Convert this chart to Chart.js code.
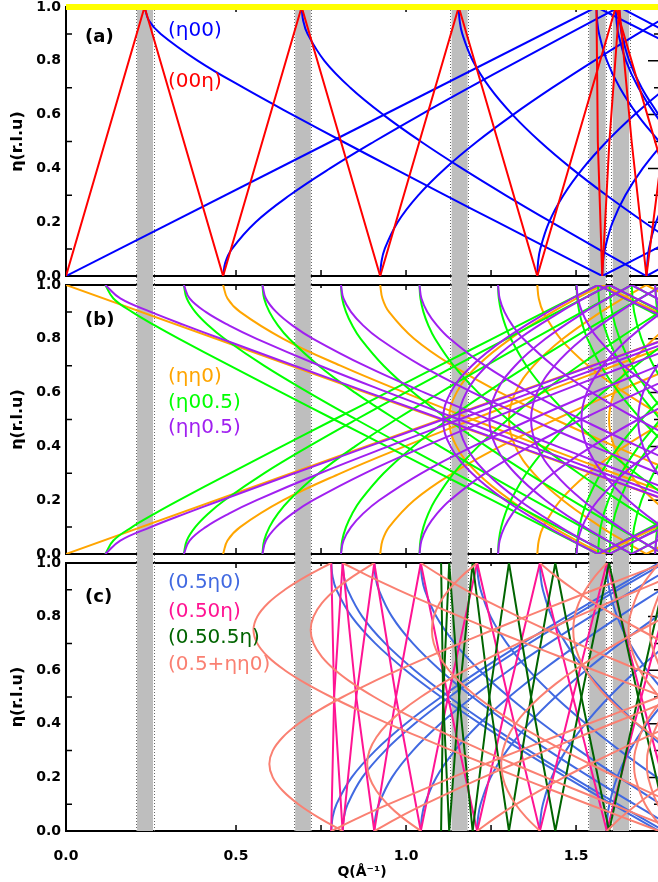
<!DOCTYPE html>
<html>
<head>
<meta charset="utf-8">
<script src="https://cdn.jsdelivr.net/npm/chart.js@4.4.1/dist/chart.umd.min.js"></script>
<style>
  html, body { margin: 0; padding: 0; background: #fff; }
  #wrap { position: relative; width: 658px; height: 882px; overflow: hidden; }
  #wrap canvas { position: absolute; left: 0; top: 0; }
  #wrap #pa { top: -30px; }
</style>
</head>
<body>
<div id="wrap">
  <canvas id="pa" width="658" height="912"></canvas>
  <canvas id="pb" width="658" height="882"></canvas>
  <canvas id="pc" width="658" height="882"></canvas>
</div>
<script>
const FONT = '"DejaVu Sans", sans-serif';
const Q_MAX = 1.741;
const xTicks = [0, 0.5, 1.0, 1.5];
const xTickMarks = [0, 0.25, 0.5, 0.75, 1.0, 1.25, 1.5];
const yTicks = [0, 0.2, 0.4, 0.6, 0.8, 1.0];
const yTickMarks = [0.1, 0.2, 0.3, 0.4, 0.5, 0.6, 0.7, 0.8, 0.9];
// grey Q windows [from, to]
const bands = [[0.209, 0.256], [0.674, 0.720], [1.134, 1.181], [1.539, 1.587], [1.608, 1.656]];

// every curve is a list of [Q, eta] points
const a_yellow = [[[0, 1], [Q_MAX, 1]]];
const a_red = [
  [[0,0],[0.231,1],[0.462,0],[0.693,1],[0.924,0],[1.155,1],[1.386,0],[1.617,1],[1.848,0]],
  [[1.560,1],[1.564,0.5],[1.577,0],[1.598,0.5],[1.627,1],[1.6635,0.5],[1.707,0],[1.757,0.5],[1.813,1]]
];
const a_blue = [
  [[0,0],[1.56,1]],
  [[1.56,1],[3.12,0]],
  [[0.462,0],[0.4685,0.05],[0.4876,0.1],[0.5575,0.2],[0.6576,0.3],[0.7764,0.4],[0.9066,0.5],[1.0438,0.6],[1.1857,0.7],[1.3308,0.8],[1.4781,0.9],[1.627,1]],
  [[1.627,1],[1.777,0.9],[1.928,0.8]],
  [[0.924,0],[0.9273,0.05],[0.9371,0.1],[0.9753,0.2],[1.0358,0.3],[1.115,0.4],[1.2092,0.5],[1.3153,0.6],[1.4305,0.7],[1.5528,0.8],[1.6808,0.9],[1.8131,1]],
  [[1.386,0],[1.3882,0.05],[1.3947,0.1],[1.4207,0.2],[1.4629,0.3],[1.52,0.4],[1.5904,0.5],[1.6725,0.6],[1.7645,0.7]],
  [[0.231,1],[0.2438,0.95],[0.2787,0.9],[0.3882,0.8],[0.5219,0.7],[0.6654,0.6],[0.8135,0.5],[0.9641,0.4],[1.1162,0.3],[1.2692,0.2],[1.4229,0.1],[1.577,0]],
  [[1.577,0],[1.7315,0.1],[1.886,0.2]],
  [[0.693,1],[0.6974,0.95],[0.7103,0.9],[0.76,0.8],[0.8362,0.7],[0.9325,0.6],[1.0434,0.5],[1.1646,0.4],[1.2933,0.3],[1.4275,0.2],[1.5657,0.1],[1.707,0]],
  [[1.707,0],[1.8507,0.1]],
  [[1.155,1],[1.1576,0.95],[1.1655,0.9],[1.1964,0.8],[1.2462,0.7],[1.3128,0.6],[1.3937,0.5],[1.4866,0.4],[1.5895,0.3],[1.7004,0.2],[1.818,0.1]],
  [[1.617,1],[1.6189,0.95],[1.6245,0.9],[1.6468,0.8],[1.6834,0.7],[1.7332,0.6],[1.7953,0.5]],
  [[1.577,0],[1.5789,0.05],[1.5847,0.1],[1.6076,0.2],[1.645,0.3],[1.696,0.4],[1.7594,0.5]],
  [[1.707,0],[1.7141,0.1],[1.7353,0.2],[1.77,0.3]],
  [[1.56,1],[1.562,0.95],[1.5678,0.9],[1.5909,0.8],[1.6287,0.7],[1.6802,0.6],[1.7441,0.5]],
  [[1.627,1],[1.6288,0.95],[1.6344,0.9],[1.6566,0.8],[1.6929,0.7],[1.7425,0.6]]
];

const b_orange = [
  [[0,0],[2.206,1]],
  [[0.462,0],[0.475,0.05],[0.512,0.1],[0.6389,0.2],[0.8071,0.3],[0.9961,0.4],[1.1959,0.5],[1.402,0.6],[1.612,0.7],[1.8244,0.8]],
  [[0.924,0],[0.9306,0.05],[0.95,0.1],[1.0239,0.2],[1.1366,0.3],[1.2777,0.4],[1.439,0.5],[1.6143,0.6],[1.7997,0.7]],
  [[1.386,0],[1.3904,0.05],[1.4034,0.1],[1.4545,0.2],[1.5359,0.3],[1.6431,0.4],[1.7714,0.5]],
  [[0,1],[2.206,0]],
  [[0.462,1],[0.475,0.95],[0.512,0.9],[0.6389,0.8],[0.8071,0.7],[0.9961,0.6],[1.1959,0.5],[1.402,0.4],[1.612,0.3],[1.8244,0.2]],
  [[0.924,1],[0.9306,0.95],[0.95,0.9],[1.0239,0.8],[1.1366,0.7],[1.2777,0.6],[1.439,0.5],[1.6143,0.4],[1.7997,0.3]],
  [[1.386,1],[1.3904,0.95],[1.4034,0.9],[1.4545,0.8],[1.5359,0.7],[1.6431,0.6],[1.7714,0.5]],
  [[1.577,0],[1.5019,0.05],[1.4314,0.1],[1.307,0.2],[1.2103,0.3],[1.1484,0.4],[1.127,0.5],[1.1484,0.6],[1.2103,0.7],[1.307,0.8],[1.4314,0.9],[1.5019,0.95],[1.577,1]],
  [[1.707,0],[1.6379,0.05],[1.5735,0.1],[1.4612,0.2],[1.3754,0.3],[1.3213,0.4],[1.3027,0.5],[1.3213,0.6],[1.3754,0.7],[1.4612,0.8],[1.5735,0.9],[1.6379,0.95],[1.707,1]],
  [[1.941,0],[1.8806,0.05],[1.8247,0.1],[1.7288,0.2],[1.657,0.3],[1.6123,0.4],[1.5971,0.5],[1.6123,0.6],[1.657,0.7],[1.7288,0.8],[1.8247,0.9],[1.8806,0.95],[1.941,1]],
  [[1.577,0],[1.656,0.05],[1.7385,0.1],[1.824,0.15]],
  [[1.707,0],[1.7803,0.05]],
  [[1.577,1],[1.656,0.95],[1.7385,0.9],[1.824,0.85]],
  [[1.707,1],[1.7803,0.95]]
];
const b_green = [
  [[0.1155,0],[0.1394,0.05],[0.1941,0.1],[0.261,0.15],[0.3327,0.2],[0.482,0.3],[0.6346,0.4],[0.7885,0.5],[0.9431,0.6],[1.0981,0.7],[1.2533,0.8],[1.4087,0.9],[1.5643,1]],
  [[0.3465,0],[0.3552,0.05],[0.38,0.1],[0.4181,0.15],[0.4663,0.2],[0.5823,0.3],[0.7138,0.4],[0.8535,0.5],[0.9981,0.6],[1.1457,0.7],[1.2952,0.8],[1.4461,0.9],[1.598,1]],
  [[0.5775,0],[0.5827,0.05],[0.5982,0.1],[0.6231,0.15],[0.6564,0.2],[0.7433,0.3],[0.8502,0.4],[0.9705,0.5],[1.0998,0.6],[1.2353,0.7],[1.3751,0.8],[1.5181,0.9],[1.6635,1]],
  [[0.8085,0],[0.8122,0.05],[0.8234,0.1],[0.8417,0.15],[0.8666,0.2],[0.9342,0.3],[1.0213,0.4],[1.1234,0.5],[1.2368,0.6],[1.3587,0.7],[1.487,0.8],[1.6201,0.9],[1.757,1]],
  [[1.0395,0],[1.0424,0.05],[1.0511,0.1],[1.0655,0.15],[1.0853,0.2],[1.14,0.3],[1.2124,0.4],[1.2996,0.5],[1.3988,0.6],[1.5077,0.7],[1.6242,0.8],[1.7469,0.9]],
  [[1.2705,0],[1.2729,0.05],[1.28,0.1],[1.2919,0.15],[1.3082,0.2],[1.354,0.3],[1.4155,0.4],[1.4908,0.5],[1.5781,0.6],[1.6753,0.7],[1.7809,0.8]],
  [[1.5015,0],[1.5035,0.05],[1.5096,0.1],[1.5196,0.15],[1.5336,0.2],[1.5728,0.3],[1.626,0.4],[1.692,0.5],[1.7693,0.6]],
  [[1.7325,0],[1.7395,0.1],[1.7604,0.2]],
  [[0.1155,1],[0.1394,0.95],[0.1941,0.9],[0.261,0.85],[0.3327,0.8],[0.482,0.7],[0.6346,0.6],[0.7885,0.5],[0.9431,0.4],[1.0981,0.3],[1.2533,0.2],[1.4087,0.1],[1.5643,0]],
  [[0.3465,1],[0.3552,0.95],[0.38,0.9],[0.4181,0.85],[0.4663,0.8],[0.5823,0.7],[0.7138,0.6],[0.8535,0.5],[0.9981,0.4],[1.1457,0.3],[1.2952,0.2],[1.4461,0.1],[1.598,0]],
  [[0.5775,1],[0.5827,0.95],[0.5982,0.9],[0.6231,0.85],[0.6564,0.8],[0.7433,0.7],[0.8502,0.6],[0.9705,0.5],[1.0998,0.4],[1.2353,0.3],[1.3751,0.2],[1.5181,0.1],[1.6635,0]],
  [[0.8085,1],[0.8122,0.95],[0.8234,0.9],[0.8417,0.85],[0.8666,0.8],[0.9342,0.7],[1.0213,0.6],[1.1234,0.5],[1.2368,0.4],[1.3587,0.3],[1.487,0.2],[1.6201,0.1],[1.757,0]],
  [[1.0395,1],[1.0424,0.95],[1.0511,0.9],[1.0655,0.85],[1.0853,0.8],[1.14,0.7],[1.2124,0.6],[1.2996,0.5],[1.3988,0.4],[1.5077,0.3],[1.6242,0.2],[1.7469,0.1]],
  [[1.2705,1],[1.2729,0.95],[1.28,0.9],[1.2919,0.85],[1.3082,0.8],[1.354,0.7],[1.4155,0.6],[1.4908,0.5],[1.5781,0.4],[1.6753,0.3],[1.7809,0.2]],
  [[1.5015,1],[1.5035,0.95],[1.5096,0.9],[1.5196,0.85],[1.5336,0.8],[1.5728,0.7],[1.626,0.6],[1.692,0.5],[1.7693,0.4]],
  [[1.7325,1],[1.7395,0.9],[1.7604,0.8]],
  [[1.5643,0],[1.7199,0.1],[1.8756,0.2]],
  [[1.598,0],[1.7506,0.1]],
  [[1.6635,0],[1.8106,0.1]],
  [[1.5643,1],[1.7199,0.9],[1.8756,0.8]],
  [[1.598,1],[1.7506,0.9]],
  [[1.6635,1],[1.8106,0.9]],
  [[1.5643,0],[1.572,0.1],[1.5951,0.2],[1.6328,0.3],[1.6841,0.4],[1.748,0.5]],
  [[1.598,0],[1.6056,0.1],[1.6282,0.2],[1.6651,0.3],[1.7155,0.4],[1.7782,0.5]],
  [[1.6635,0],[1.6708,0.1],[1.6925,0.2],[1.728,0.3],[1.7767,0.4]],
  [[1.5643,1],[1.572,0.9],[1.5951,0.8],[1.6328,0.7],[1.6841,0.6],[1.748,0.5]],
  [[1.598,1],[1.6056,0.9],[1.6282,0.8],[1.6651,0.7],[1.7155,0.6],[1.7782,0.5]],
  [[1.6635,1],[1.6708,0.9],[1.6925,0.8],[1.728,0.7],[1.7767,0.6]]
];
const b_purple = [
  [[0.1155,0],[0.1597,0.05],[0.249,0.1],[0.3505,0.15],[0.4561,0.2],[0.6719,0.3],[0.89,0.4],[1.1091,0.5],[1.3287,0.6],[1.5486,0.7],[1.7687,0.8]],
  [[0.3465,0],[0.3636,0.05],[0.4108,0.1],[0.4791,0.15],[0.561,0.2],[0.7471,0.3],[0.9481,0.4],[1.1562,0.5],[1.3683,0.6],[1.5827,0.7],[1.7986,0.8]],
  [[0.5775,0],[0.588,0.05],[0.6182,0.1],[0.6656,0.15],[0.7268,0.2],[0.8784,0.3],[1.0546,0.4],[1.2451,0.5],[1.4442,0.6],[1.6488,0.7],[1.857,0.8]],
  [[0.8085,0],[0.816,0.05],[0.8381,0.1],[0.8736,0.15],[0.9211,0.2],[1.0449,0.3],[1.1968,0.4],[1.3677,0.5],[1.5511,0.6],[1.7432,0.7]],
  [[1.0395,0],[1.0453,0.05],[1.0627,0.1],[1.0909,0.15],[1.1293,0.2],[1.2323,0.3],[1.3636,0.4],[1.5157,0.5],[1.6831,0.6],[1.8616,0.7]],
  [[1.2705,0],[1.2753,0.05],[1.2895,0.1],[1.3129,0.15],[1.3449,0.2],[1.4326,0.3],[1.5469,0.4],[1.6826,0.5],[1.8348,0.6]],
  [[1.5015,0],[1.5056,0.05],[1.5176,0.1],[1.5375,0.15],[1.565,0.2],[1.6409,0.3],[1.7416,0.4]],
  [[1.7325,0],[1.736,0.05],[1.7465,0.1]],
  [[0.1155,1],[0.1597,0.95],[0.249,0.9],[0.3505,0.85],[0.4561,0.8],[0.6719,0.7],[0.89,0.6],[1.1091,0.5],[1.3287,0.4],[1.5486,0.3],[1.7687,0.2]],
  [[0.3465,1],[0.3636,0.95],[0.4108,0.9],[0.4791,0.85],[0.561,0.8],[0.7471,0.7],[0.9481,0.6],[1.1562,0.5],[1.3683,0.4],[1.5827,0.3],[1.7986,0.2]],
  [[0.5775,1],[0.588,0.95],[0.6182,0.9],[0.6656,0.85],[0.7268,0.8],[0.8784,0.7],[1.0546,0.6],[1.2451,0.5],[1.4442,0.4],[1.6488,0.3],[1.857,0.2]],
  [[0.8085,1],[0.816,0.95],[0.8381,0.9],[0.8736,0.85],[0.9211,0.8],[1.0449,0.7],[1.1968,0.6],[1.3677,0.5],[1.5511,0.4],[1.7432,0.3]],
  [[1.0395,1],[1.0453,0.95],[1.0627,0.9],[1.0909,0.85],[1.1293,0.8],[1.2323,0.7],[1.3636,0.6],[1.5157,0.5],[1.6831,0.4],[1.8616,0.3]],
  [[1.2705,1],[1.2753,0.95],[1.2895,0.9],[1.3129,0.85],[1.3449,0.8],[1.4326,0.7],[1.5469,0.6],[1.6826,0.5],[1.8348,0.4]],
  [[1.5015,1],[1.5056,0.95],[1.5176,0.9],[1.5375,0.85],[1.565,0.8],[1.6409,0.7],[1.7416,0.6]],
  [[1.7325,1],[1.736,0.95],[1.7465,0.9]],
  [[1.5643,0],[1.4885,0.05],[1.4174,0.1],[1.2916,0.2],[1.1937,0.3],[1.1309,0.4],[1.1091,0.5],[1.1309,0.6],[1.1937,0.7],[1.2916,0.8],[1.4174,0.9],[1.4885,0.95],[1.5643,1]],
  [[1.598,0],[1.524,0.05],[1.4545,0.1],[1.3323,0.2],[1.2376,0.3],[1.1771,0.4],[1.1562,0.5],[1.1771,0.6],[1.2376,0.7],[1.3323,0.8],[1.4545,0.9],[1.524,0.95],[1.598,1]],
  [[1.6635,0],[1.5925,0.05],[1.5261,0.1],[1.4101,0.2],[1.321,0.3],[1.2645,0.4],[1.2451,0.5],[1.2645,0.6],[1.321,0.7],[1.4101,0.8],[1.5261,0.9],[1.5925,0.95],[1.6635,1]],
  [[1.757,0],[1.69,0.05],[1.6276,0.1],[1.5194,0.2],[1.4371,0.3],[1.3853,0.4],[1.3677,0.5],[1.3853,0.6],[1.4371,0.7],[1.5194,0.8],[1.6276,0.9],[1.69,0.95],[1.757,1]],
  [[1.8746,0],[1.8119,0.05],[1.7539,0.1],[1.6539,0.2],[1.5786,0.3],[1.5317,0.4],[1.5157,0.5],[1.5317,0.6],[1.5786,0.7],[1.6539,0.8],[1.7539,0.9],[1.8119,0.95],[1.8746,1]],
  [[1.9,0.1],[1.808,0.2],[1.7394,0.3],[1.697,0.4],[1.6826,0.5],[1.697,0.6],[1.7394,0.7],[1.808,0.8],[1.9,0.9]],
  [[1.5643,0],[1.6439,0.05],[1.727,0.1],[1.8129,0.15]],
  [[1.598,0],[1.6761,0.05],[1.7576,0.1]],
  [[1.6635,0],[1.7386,0.05],[1.8173,0.1]],
  [[1.5643,1],[1.6439,0.95],[1.727,0.9],[1.8129,0.85]],
  [[1.598,1],[1.6761,0.95],[1.7576,0.9]],
  [[1.6635,1],[1.7386,0.95],[1.8173,0.9]]
];

const c_blue = [
  [[0.78,0],[0.7839,0.05],[0.7955,0.1],[0.8401,0.2],[0.9096,0.3],[0.9989,0.4],[1.1031,0.5],[1.2184,0.6],[1.342,0.7],[1.4717,0.8],[1.6061,0.9],[1.7441,1]],
  [[0.8135,0],[0.8172,0.05],[0.8283,0.1],[0.8713,0.2],[0.9385,0.3],[1.0253,0.4],[1.127,0.5],[1.2401,0.6],[1.3617,0.7],[1.4897,0.8],[1.6226,0.9],[1.7594,1]],
  [[0.9066,0],[0.9099,0.05],[0.9199,0.1],[0.9587,0.2],[1.0202,0.3],[1.1006,0.4],[1.1959,0.5],[1.303,0.6],[1.4193,0.7],[1.5425,0.8],[1.6712,0.9],[1.8043,1]],
  [[1.0434,0],[1.0463,0.05],[1.055,0.1],[1.089,0.2],[1.1435,0.3],[1.2157,0.4],[1.3027,0.5],[1.4017,0.6],[1.5103,0.7],[1.6267,0.8],[1.7492,0.9]],
  [[1.2092,0],[1.2117,0.05],[1.2192,0.1],[1.2488,0.2],[1.2966,0.3],[1.3607,0.4],[1.439,0.5],[1.5291,0.6],[1.6293,0.7],[1.7377,0.8],[1.853,0.9]],
  [[1.3937,0],[1.3959,0.05],[1.4024,0.1],[1.4282,0.2],[1.4702,0.3],[1.527,0.4],[1.5971,0.5],[1.6788,0.6],[1.7706,0.7]],
  [[1.5904,0],[1.5923,0.05],[1.598,0.1],[1.6207,0.2],[1.6578,0.3],[1.7084,0.4],[1.7714,0.5]],
  [[0.78,1],[0.7839,0.95],[0.7955,0.9],[0.8401,0.8],[0.9096,0.7],[0.9989,0.6],[1.1031,0.5],[1.2184,0.4],[1.342,0.3],[1.4717,0.2],[1.6061,0.1],[1.7441,0]],
  [[0.8135,1],[0.8172,0.95],[0.8283,0.9],[0.8713,0.8],[0.9385,0.7],[1.0253,0.6],[1.127,0.5],[1.2401,0.4],[1.3617,0.3],[1.4897,0.2],[1.6226,0.1],[1.7594,0]],
  [[0.9066,1],[0.9099,0.95],[0.9199,0.9],[0.9587,0.8],[1.0202,0.7],[1.1006,0.6],[1.1959,0.5],[1.303,0.4],[1.4193,0.3],[1.5425,0.2],[1.6712,0.1],[1.8043,0]],
  [[1.0434,1],[1.0463,0.95],[1.055,0.9],[1.089,0.8],[1.1435,0.7],[1.2157,0.6],[1.3027,0.5],[1.4017,0.4],[1.5103,0.3],[1.6267,0.2],[1.7492,0.1]],
  [[1.2092,1],[1.2117,0.95],[1.2192,0.9],[1.2488,0.8],[1.2966,0.7],[1.3607,0.6],[1.439,0.5],[1.5291,0.4],[1.6293,0.3],[1.7377,0.2],[1.853,0.1]],
  [[1.3937,1],[1.3959,0.95],[1.4024,0.9],[1.4282,0.8],[1.4702,0.7],[1.527,0.6],[1.5971,0.5],[1.6788,0.4],[1.7706,0.3]],
  [[1.5904,1],[1.5923,0.95],[1.598,0.9],[1.6207,0.8],[1.6578,0.7],[1.7084,0.6],[1.7714,0.5]]
];
const c_pink = [
  [[0.78,0],[0.7885,0.5],[0.8135,1],[0.8535,0.5],[0.9066,0],[0.9705,0.5],[1.0434,1],[1.1234,0.5],[1.2092,0],[1.2996,0.5],[1.3937,1],[1.4908,0.5],[1.5904,0],[1.692,0.5],[1.7953,1]],
  [[0.78,1],[0.7885,0.5],[0.8135,0],[0.8535,0.5],[0.9066,1],[0.9705,0.5],[1.0434,0],[1.1234,0.5],[1.2092,1],[1.2996,0.5],[1.3937,0],[1.4908,0.5],[1.5904,1],[1.692,0.5],[1.7953,0]]
];
const c_dgreen = [
  [[1.1031,0],[1.1091,0.5],[1.127,1],[1.1562,0.5],[1.1959,0],[1.2451,0.5],[1.3027,1],[1.3677,0.5],[1.439,0],[1.5157,0.5],[1.5971,1],[1.6826,0.5],[1.7714,0]],
  [[1.1031,1],[1.1091,0.5],[1.127,0],[1.1562,0.5],[1.1959,1],[1.2451,0.5],[1.3027,0],[1.3677,0.5],[1.439,1],[1.5157,0.5],[1.5971,0],[1.6826,0.5],[1.7714,1]]
];
const c_salmon = [
  [[0.78,0],[0.8615,0.05],[0.9489,0.1],[1.0407,0.15],[1.1357,0.2],[1.2333,0.25],[1.3329,0.3],[1.434,0.35],[1.5364,0.4],[1.6399,0.45],[1.7441,0.5]],
  [[0.9066,0],[0.9776,0.05],[1.0554,0.1],[1.1386,0.15],[1.2261,0.2],[1.317,0.25],[1.4107,0.3],[1.5066,0.35],[1.6044,0.4],[1.7037,0.45],[1.8043,0.5]],
  [[1.2092,0],[1.2633,0.05],[1.3245,0.1],[1.3917,0.15],[1.4641,0.2],[1.5411,0.25],[1.6218,0.3],[1.7059,0.35],[1.7929,0.4]],
  [[1.5904,0],[1.6319,0.05],[1.6797,0.1],[1.7332,0.15],[1.7919,0.2]],
  [[0.8135,1],[0.892,0.95],[0.9766,0.9],[1.066,0.85],[1.159,0.8],[1.2547,0.75],[1.3527,0.7],[1.4525,0.65],[1.5537,0.6],[1.656,0.55],[1.7594,0.5]],
  [[1.0434,1],[1.1057,0.95],[1.175,0.9],[1.2503,0.85],[1.3304,0.8],[1.4147,0.75],[1.5023,0.7],[1.5927,0.65],[1.6855,0.6],[1.7803,0.55]],
  [[1.3937,1],[1.441,0.95],[1.4948,0.9],[1.5547,0.85],[1.6198,0.8],[1.6897,0.75],[1.7637,0.7]],
  [[0.8135,0],[0.7431,0.05],[0.6834,0.1],[0.6374,0.15],[0.6081,0.2],[0.598,0.25],[0.6081,0.3],[0.6374,0.35],[0.6834,0.4],[0.7431,0.45],[0.8135,0.5],[0.892,0.55],[0.9766,0.6],[1.066,0.65],[1.159,0.7],[1.2547,0.75],[1.3527,0.8],[1.4525,0.85],[1.5537,0.9],[1.656,0.95],[1.7594,1]],
  [[1.0434,0],[0.9895,0.05],[0.9455,0.1],[0.9128,0.15],[0.8925,0.2],[0.8857,0.25],[0.8925,0.3],[0.9128,0.35],[0.9455,0.4],[0.9895,0.45],[1.0434,0.5],[1.1057,0.55],[1.175,0.6],[1.2503,0.65],[1.3304,0.7],[1.4147,0.75],[1.5023,0.8],[1.5927,0.85],[1.6855,0.9],[1.7803,0.95]],
  [[1.3937,0],[1.3539,0.05],[1.322,0.1],[1.2988,0.15],[1.2847,0.2],[1.2799,0.25],[1.2847,0.3],[1.2988,0.35],[1.322,0.4],[1.3539,0.45],[1.3937,0.5],[1.441,0.55],[1.4948,0.6],[1.5547,0.65],[1.6198,0.7],[1.6897,0.75],[1.7637,0.8]],
  [[1.7953,0],[1.7402,0.1],[1.712,0.2],[1.7085,0.25],[1.712,0.3],[1.7402,0.4],[1.7953,0.5]],
  [[0.78,1],[0.7063,0.95],[0.6432,0.9],[0.594,0.85],[0.5625,0.8],[0.5515,0.75],[0.5625,0.7],[0.594,0.65],[0.6432,0.6],[0.7063,0.55],[0.78,0.5],[0.8615,0.45],[0.9489,0.4],[1.0407,0.35],[1.1357,0.3],[1.2333,0.25],[1.3329,0.2],[1.434,0.15],[1.5364,0.1],[1.6399,0.05],[1.7441,0]],
  [[0.9066,1],[0.844,0.95],[0.7919,0.9],[0.7525,0.85],[0.7279,0.8],[0.7195,0.75],[0.7279,0.7],[0.7525,0.65],[0.7919,0.6],[0.844,0.55],[0.9066,0.5],[0.9776,0.45],[1.0554,0.4],[1.1386,0.35],[1.2261,0.3],[1.317,0.25],[1.4107,0.2],[1.5066,0.15],[1.6044,0.1],[1.7037,0.05],[1.8043,0]],
  [[1.2092,1],[1.163,0.95],[1.1258,0.9],[1.0985,0.85],[1.0817,0.8],[1.0761,0.75],[1.0817,0.7],[1.0985,0.65],[1.1258,0.6],[1.163,0.55],[1.2092,0.5],[1.2633,0.45],[1.3245,0.4],[1.3917,0.35],[1.4641,0.3],[1.5411,0.25],[1.6218,0.2],[1.7059,0.15],[1.7929,0.1]],
  [[1.5904,1],[1.5556,0.95],[1.528,0.9],[1.5079,0.85],[1.4958,0.8],[1.4917,0.75],[1.4958,0.7],[1.5079,0.65],[1.528,0.6],[1.5556,0.55],[1.5904,0.5],[1.6319,0.45],[1.6797,0.4],[1.7332,0.35],[1.7919,0.3]],
  [[1.7594,0],[1.7031,0.1],[1.6743,0.2],[1.6707,0.25],[1.6743,0.3],[1.7031,0.4],[1.7594,0.5]],
  [[1.7441,0.5],[1.6874,0.6],[1.6583,0.7],[1.6546,0.75],[1.6583,0.8],[1.6874,0.9],[1.7441,1]],
  [[1.7495,0.6],[1.7215,0.7],[1.7179,0.75],[1.7215,0.8],[1.7495,0.9]]
];

function isMultiple(v, step) {
  return Math.abs(v / step - Math.round(v / step)) < 1e-6;
}

// frame, inward ticks, grey windows, and the in-plot labels
const panelDecor = {
  id: 'panelDecor',
  beforeDatasetsDraw(chart, args, o) {
    const { ctx, chartArea: a } = chart;
    const x = chart.scales.x, y = chart.scales.y;
    ctx.save();
    ctx.strokeStyle = '#000';
    ctx.lineWidth = 2;
    ctx.beginPath();
    ctx.moveTo(a.right + 2, a.top);
    ctx.lineTo(a.left, a.top);
    ctx.lineTo(a.left, a.bottom);
    ctx.lineTo(a.right + 2, a.bottom);
    ctx.stroke();

    ctx.lineWidth = 1.5;
    ctx.beginPath();
    xTickMarks.forEach(v => {
      const px = x.getPixelForValue(v);
      const major = isMultiple(v, 0.5);
      ctx.moveTo(px, a.bottom);
      ctx.lineTo(px, a.bottom - 6);
      ctx.moveTo(px, a.top);
      ctx.lineTo(px, a.top + (major ? 5 : 3));
    });
    yTickMarks.forEach(v => {
      const py = y.getPixelForValue(v);
      const major = isMultiple(v, 0.2);
      if (!major) {
        ctx.moveTo(a.left, py);
        ctx.lineTo(a.left + 6, py);
      }
      ctx.moveTo(a.right, py);
      ctx.lineTo(a.right - (major ? 10 : 4), py);
    });
    ctx.stroke();

    const bottom = a.bottom + o.gap;
    bands.forEach(b => {
      const x0 = x.getPixelForValue(b[0]);
      const x1 = x.getPixelForValue(b[1]);
      ctx.fillStyle = '#bebebe';
      ctx.fillRect(x0, a.top - 1, x1 - x0, bottom - a.top + 1);
      ctx.strokeStyle = '#666';
      ctx.lineWidth = 1;
      ctx.setLineDash([1, 2]);
      [Math.floor(x0) - 0.5, Math.ceil(x1) + 0.5].forEach(px => {
        ctx.beginPath();
        ctx.moveTo(px, a.top);
        ctx.lineTo(px, bottom);
        ctx.stroke();
      });
      ctx.setLineDash([]);
    });
    ctx.restore();
  },
  afterDatasetsDraw(chart, args, o) {
    const { ctx } = chart;
    const x = chart.scales.x, y = chart.scales.y;
    ctx.save();
    ctx.textAlign = 'left';
    ctx.textBaseline = 'middle';
    ctx.fillStyle = '#000';
    ctx.font = 'bold 18px ' + FONT;
    ctx.fillText(o.tag[0], x.getPixelForValue(o.tag[1]), y.getPixelForValue(o.tag[2]));
    ctx.font = '20px ' + FONT;
    o.notes.forEach(n => {
      ctx.fillStyle = n[1];
      ctx.fillText(n[0], x.getPixelForValue(n[2]), y.getPixelForValue(n[3]));
    });
    ctx.restore();
  }
};

function makePanel(id, cfg) {
  const datasets = [];
  cfg.series.forEach(s => {
    s.curves.forEach(c => {
      const ds = {
        data: c.map(p => ({ x: p[0], y: p[1] })),
        showLine: true,
        borderColor: s.color,
        borderWidth: s.width || 2,
        tension: s.smooth ? 0.4 : 0,
        pointRadius: 0,
        pointHoverRadius: 0,
        borderCapStyle: 'butt',
        fill: false
      };
      if (s.clip !== undefined) ds.clip = s.clip;
      datasets.push(ds);
    });
  });
  const tickFont = { family: FONT, size: 14, weight: 'bold' };
  return new Chart(document.getElementById(id), {
    type: 'scatter',
    data: { datasets },
    plugins: [panelDecor],
    options: {
      responsive: false,
      animation: false,
      events: [],
      layout: { autoPadding: false, padding: { top: cfg.top, bottom: cfg.padBottom, left: 0, right: 0 } },
      plugins: {
        legend: { display: false },
        tooltip: { enabled: false },
        panelDecor: { gap: cfg.gap, tag: cfg.tag, notes: cfg.notes }
      },
      scales: {
        x: {
          type: 'linear', min: 0, max: Q_MAX, display: cfg.showX,
          grid: { display: false, drawTicks: false },
          border: { display: false },
          afterBuildTicks: s => { s.ticks = xTicks.map(v => ({ value: v })); },
          afterFit: s => { if (cfg.showX) s.height = 51; },
          ticks: { padding: 17, font: tickFont, color: '#000', maxRotation: 0, autoSkip: false,
                   callback: v => v.toFixed(1) },
          title: { display: true, text: 'Q(Å⁻¹)', color: '#000',
                   font: { family: FONT, size: 14, weight: 'bold' }, padding: { top: 0, bottom: 1 } }
        },
        y: {
          type: 'linear', min: 0, max: 1,
          grid: { display: false, drawTicks: false },
          border: { display: false },
          afterBuildTicks: s => { s.ticks = yTicks.map(v => ({ value: v })); },
          afterFit: s => { s.width = 66; },
          ticks: { padding: 5, font: tickFont, color: '#000', callback: v => v.toFixed(1) },
          title: { display: true, text: 'η(r.l.u)', color: '#000',
                   font: { family: FONT, size: 16, weight: 'bold' }, padding: { top: 8, bottom: 0 } }
        }
      }
    }
  });
}

// panel (a) canvas sits 30px above the page top, so its plot top is 7px on the page
makePanel('pa', {
  top: 37, padBottom: 606, gap: 9, showX: false,
  tag: ['(a)', 0.056, 0.888],
  notes: [['(η00)', '#0000ff', 0.3, 0.911], ['(00η)', '#ff0000', 0.3, 0.721]],
  series: [
    { curves: a_yellow, color: '#ffff00', width: 6, clip: { left: 0, right: 0, top: 4, bottom: 0 } },
    { curves: a_red, color: '#ff0000' },
    { curves: a_blue, color: '#0000ff', smooth: true }
  ]
});

makePanel('pb', {
  top: 285, padBottom: 328, gap: 9, showX: false,
  tag: ['(b)', 0.056, 0.87],
  notes: [['(ηη0)', '#ffa500', 0.3, 0.658], ['(η00.5)', '#00ff00', 0.3, 0.561], ['(ηη0.5)', '#a020f0', 0.3, 0.468]],
  series: [
    { curves: b_purple, color: '#a020f0', smooth: true },
    { curves: b_green, color: '#00ff00', smooth: true },
    { curves: b_orange, color: '#ffa500', smooth: true }
  ]
});

makePanel('pc', {
  top: 563, padBottom: 0, gap: 0, showX: true,
  tag: ['(c)', 0.056, 0.873],
  notes: [['(0.5η0)', '#4169e1', 0.3, 0.925], ['(0.50η)', '#ff1493', 0.3, 0.817],
          ['(0.50.5η)', '#006400', 0.3, 0.72], ['(0.5+ηη0)', '#fa8072', 0.3, 0.619]],
  series: [
    { curves: c_salmon, color: '#fa8072', smooth: true },
    { curves: c_dgreen, color: '#006400' },
    { curves: c_pink, color: '#ff1493' },
    { curves: c_blue, color: '#4169e1', smooth: true }
  ]
});
</script>
</body>
</html>
